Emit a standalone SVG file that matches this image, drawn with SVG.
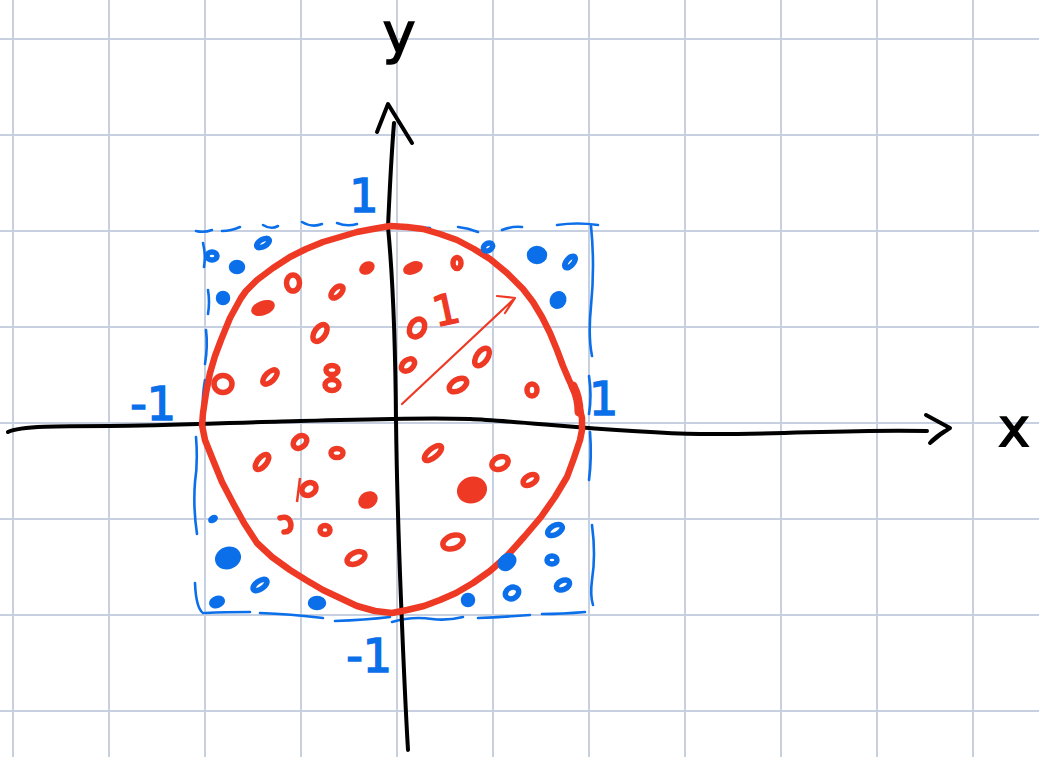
<svg xmlns="http://www.w3.org/2000/svg" width="1039" height="757" viewBox="0 0 1039 757">
<style>
.grid line{stroke:#c6d0e1;stroke-width:2}
.ax{fill:none;stroke:#000;stroke-width:4;stroke-linecap:round;stroke-linejoin:round}
.sq{fill:none;stroke:#0b6fea;stroke-width:2.6;stroke-linecap:round}
.circ{fill:none;stroke:#ee3a25;stroke-width:6.5;stroke-linejoin:round;stroke-linecap:round}
.rl{fill:none;stroke:#ee3a25;stroke-width:5.5}
.rf{fill:#ee3a25;stroke:#ee3a25;stroke-width:2.5}
.bl{fill:none;stroke:#0b6fea;stroke-width:5.5}
.bf{fill:#0b6fea;stroke:#0b6fea;stroke-width:2.5}
.lb{font-family:"DejaVu Sans",sans-serif;font-size:46px;fill:#0b6fea;stroke:#0b6fea;stroke-width:1.6}
.ak{font-family:"DejaVu Sans",sans-serif;fill:#000;stroke:#000;stroke-width:1.4}
</style>
<rect width="1039" height="757" fill="#fff"/>
<g id="grid" class="grid">
<line x1="13" y1="0" x2="13" y2="757"/><line x1="109" y1="0" x2="109" y2="757"/><line x1="205" y1="0" x2="205" y2="757"/><line x1="301" y1="0" x2="301" y2="757"/><line x1="397" y1="0" x2="397" y2="757"/><line x1="493" y1="0" x2="493" y2="757"/><line x1="589" y1="0" x2="589" y2="757"/><line x1="685" y1="0" x2="685" y2="757"/><line x1="781" y1="0" x2="781" y2="757"/><line x1="877" y1="0" x2="877" y2="757"/><line x1="973" y1="0" x2="973" y2="757"/>
<line x1="0" y1="39" x2="1039" y2="39"/><line x1="0" y1="135" x2="1039" y2="135"/><line x1="0" y1="231" x2="1039" y2="231"/><line x1="0" y1="327" x2="1039" y2="327"/><line x1="0" y1="423" x2="1039" y2="423"/><line x1="0" y1="519" x2="1039" y2="519"/><line x1="0" y1="615" x2="1039" y2="615"/><line x1="0" y1="711" x2="1039" y2="711"/>
</g>
<g id="square" class="sq">
<path d="M196,231 q8,2 16,-1"/><path d="M222,231 q9,0 18,-4"/><path d="M263,225 q8,5 15,1"/><path d="M302,222 q10,6 20,2"/><path d="M337,223 q10,4 20,1"/><path d="M370,228 q7,-1 13,0"/><path d="M413,228 q9,-1 17,0"/><path d="M458,227 q10,1 20,5"/><path d="M502,230 q10,-4 20,-3"/><path d="M557,225 q20,-3 41,0"/>
<path d="M591,226 q4,40 0,80 q-3,30 1,50"/><path d="M589,376 q3,20 0,38"/><path d="M590,432 q2,25 -1,48"/><path d="M592,525 q4,30 0,55 q-2,15 1,25"/>
<path d="M203,243 q3,12 1,24"/><path d="M208,290 q2,12 0,24"/><path d="M206,330 q2,16 -1,34"/><path d="M205,380 q-3,16 -2,33"/><path d="M196,437 q2,25 -1,45 q-2,25 2,52"/><path d="M195,583 q1,25 8,30"/>
<path d="M205,613 q20,-1 45,-1"/><path d="M260,613 q30,1 63,5"/><path d="M335,621 q30,-1 55,-4"/><path d="M392,622 q20,-6 40,-3 q15,2 31,-2"/><path d="M478,618 q25,-1 52,-3"/><path d="M542,614 q20,0 43,-2"/>
</g>
<g id="axes">
<path class="ax" d="M408,750 Q405,700 401,600 Q397,500 396,420 Q395,300 388,227 Q391,160 394,123"/>
<path class="ax" d="M377,132 L388,104 L412,143"/>
<path class="ax" d="M8,432 C20,426 60,426 110,426 S250,422 300,421 S420,417 470,419 S620,433 700,434 S850,429 927,431"/>
<path class="ax" d="M926,415 L950,428 Q940,434 930,443 Q935,437 945,431"/>
<text class="ak" x="1014" y="446" font-size="54" text-anchor="middle">x</text>
<text class="ak" x="399" y="52" font-size="56" text-anchor="middle">y</text>
</g>
<g id="labels">
<text class="lb" x="364" y="212" text-anchor="middle">1</text>
<text class="lb" x="176" y="420" text-anchor="end">-1</text>
<text class="lb" x="589" y="415">1</text>
<text class="lb" x="392" y="672" text-anchor="end">-1</text>
<text x="0" y="0" font-family="DejaVu Sans,sans-serif" font-size="42" fill="#ee3a25" stroke="#ee3a25" stroke-width="1.6" transform="translate(436,327) rotate(-12)">1</text>
</g>
<g id="circle">
<path class="circ" d="M390,226 L407,227 L423,229 L440,234 L457,240 L474,249 L490,259 L507,273 L523,289 L533,302 L542,317 L550,333 L557,350 L563,366 L569,380 L575,393 L579,405 L582,418 L582,430 L580,440 L574,458 L567,477 L555,497 L541,517 L524,537 L507,556 L490,571 L473,583 L456,593 L440,600 L424,606 L407,610 L392,613 L375,611 L357,606 L340,598 L323,590 L306,580 L290,570 L272,557 L257,543 L244,523 L233,503 L222,482 L213,460 L205,440 L202,425 L203,413 L206,393 L210,373 L215,356 L221,340 L230,318 L241,298 L246,291 L257,280 L273,268 L290,257 L306,249 L323,242 L340,237 L357,232 L373,229 Z"/>
<path d="M573,386 Q579,398 579,412" fill="none" stroke="#ee3a25" stroke-width="9" stroke-linecap="round"/>
</g>
<g id="radius">
<path d="M402,404 L515,298 M497,296 L515,298 L505,313" fill="none" stroke="#ee3a25" stroke-width="2.2" stroke-linecap="round" stroke-linejoin="round"/>
</g>
<g id="blue-dots">
<ellipse class="bl" cx="212" cy="256" rx="5" ry="4"/>
<ellipse class="bl" cx="263" cy="243" rx="7" ry="3.5" transform="rotate(-30 263 243)"/>
<ellipse class="bf" cx="237" cy="267" rx="7" ry="6"/>
<ellipse class="bf" cx="223" cy="298" rx="6" ry="6"/>
<ellipse class="bl" cx="488" cy="247" rx="5" ry="3.5" transform="rotate(-30 488 247)"/>
<ellipse class="bf" cx="537" cy="255" rx="9" ry="8"/>
<ellipse class="bl" cx="570" cy="262" rx="7" ry="3.5" transform="rotate(-50 570 262)"/>
<ellipse class="bf" cx="558" cy="300" rx="7" ry="8" transform="rotate(30 558 300)"/>
<ellipse class="bf" cx="213" cy="519" rx="4" ry="2.5" transform="rotate(-30 213 519)"/>
<ellipse class="bf" cx="228" cy="558" rx="12" ry="10" transform="rotate(-20 228 558)"/>
<ellipse class="bl" cx="260" cy="585" rx="8" ry="4" transform="rotate(-35 260 585)"/>
<ellipse class="bf" cx="217" cy="602" rx="7" ry="5" transform="rotate(-20 217 602)"/>
<ellipse class="bf" cx="317" cy="603" rx="8" ry="6"/>
<ellipse class="bl" cx="555" cy="530" rx="8" ry="4.5" transform="rotate(-30 555 530)"/>
<ellipse class="bf" cx="507" cy="562" rx="9" ry="7" transform="rotate(-40 507 562)"/>
<ellipse class="bl" cx="552" cy="560" rx="5" ry="4"/>
<ellipse class="bl" cx="563" cy="585" rx="7" ry="4.5" transform="rotate(-25 563 585)"/>
<ellipse class="bl" cx="512" cy="593" rx="7" ry="5.5" transform="rotate(-30 512 593)"/>
<ellipse class="bf" cx="468" cy="600" rx="6" ry="6"/>
</g>
<g id="red-dots">
<ellipse class="rl" cx="293" cy="283" rx="6.5" ry="8"/>
<ellipse class="rl" cx="337" cy="292" rx="7.5" ry="4" transform="rotate(-45 337 292)"/>
<ellipse class="rf" cx="263" cy="308" rx="11" ry="6" transform="rotate(-20 263 308)"/>
<ellipse class="rf" cx="367" cy="268" rx="7" ry="5" transform="rotate(-30 367 268)"/>
<ellipse class="rl" cx="320" cy="333" rx="5.5" ry="9.5" transform="rotate(35 320 333)"/>
<ellipse class="rl" cx="223" cy="384" rx="9" ry="8.5"/>
<ellipse class="rl" cx="270" cy="377" rx="9" ry="4.5" transform="rotate(-45 270 377)"/>
<ellipse class="rl" cx="332" cy="370" rx="6" ry="4.5"/>
<ellipse class="rl" cx="332" cy="385" rx="7" ry="5.5"/>
<ellipse class="rf" cx="413" cy="268" rx="9" ry="5" transform="rotate(-20 413 268)"/>
<ellipse class="rl" cx="457" cy="263" rx="4" ry="5.5"/>
<ellipse class="rl" cx="417" cy="328" rx="7" ry="9.5" transform="rotate(30 417 328)"/>
<ellipse class="rl" cx="408" cy="365" rx="7.5" ry="5" transform="rotate(-40 408 365)"/>
<ellipse class="rl" cx="482" cy="357" rx="10" ry="5.5" transform="rotate(-55 482 357)"/>
<ellipse class="rl" cx="458" cy="385" rx="9.5" ry="5.5" transform="rotate(-30 458 385)"/>
<ellipse class="rl" cx="532" cy="390" rx="5" ry="6"/>
<ellipse class="rl" cx="262" cy="462" rx="4.5" ry="9" transform="rotate(40 262 462)"/>
<ellipse class="rl" cx="300" cy="442" rx="7.5" ry="5.5" transform="rotate(-40 300 442)"/>
<ellipse class="rl" cx="337" cy="453" rx="6" ry="4.5"/>
<ellipse class="rl" cx="309" cy="489" rx="7.5" ry="6" transform="rotate(-30 309 489)"/>
<path d="M300,478 L297,502" fill="none" stroke="#ee3a25" stroke-width="2.5"/>
<ellipse class="rf" cx="368" cy="500" rx="9" ry="7" transform="rotate(-30 368 500)"/>
<path d="M280,518 Q290,515 291,525 Q291,532 284,532" fill="none" stroke="#ee3a25" stroke-width="5.5" stroke-linecap="round"/>
<ellipse class="rl" cx="325" cy="530" rx="5" ry="4.5"/>
<ellipse class="rl" cx="356" cy="558" rx="9.5" ry="5.5" transform="rotate(-25 356 558)"/>
<ellipse class="rl" cx="433" cy="453" rx="10.5" ry="4.5" transform="rotate(-40 433 453)"/>
<ellipse class="rl" cx="500" cy="463" rx="8.5" ry="6" transform="rotate(-25 500 463)"/>
<ellipse class="rl" cx="530" cy="480" rx="7.5" ry="4.5" transform="rotate(-30 530 480)"/>
<ellipse class="rf" cx="472" cy="490" rx="14" ry="12" transform="rotate(-20 472 490)"/>
<ellipse class="rl" cx="453" cy="542" rx="10.5" ry="6.5" transform="rotate(-20 453 542)"/>
</g>
</svg>
